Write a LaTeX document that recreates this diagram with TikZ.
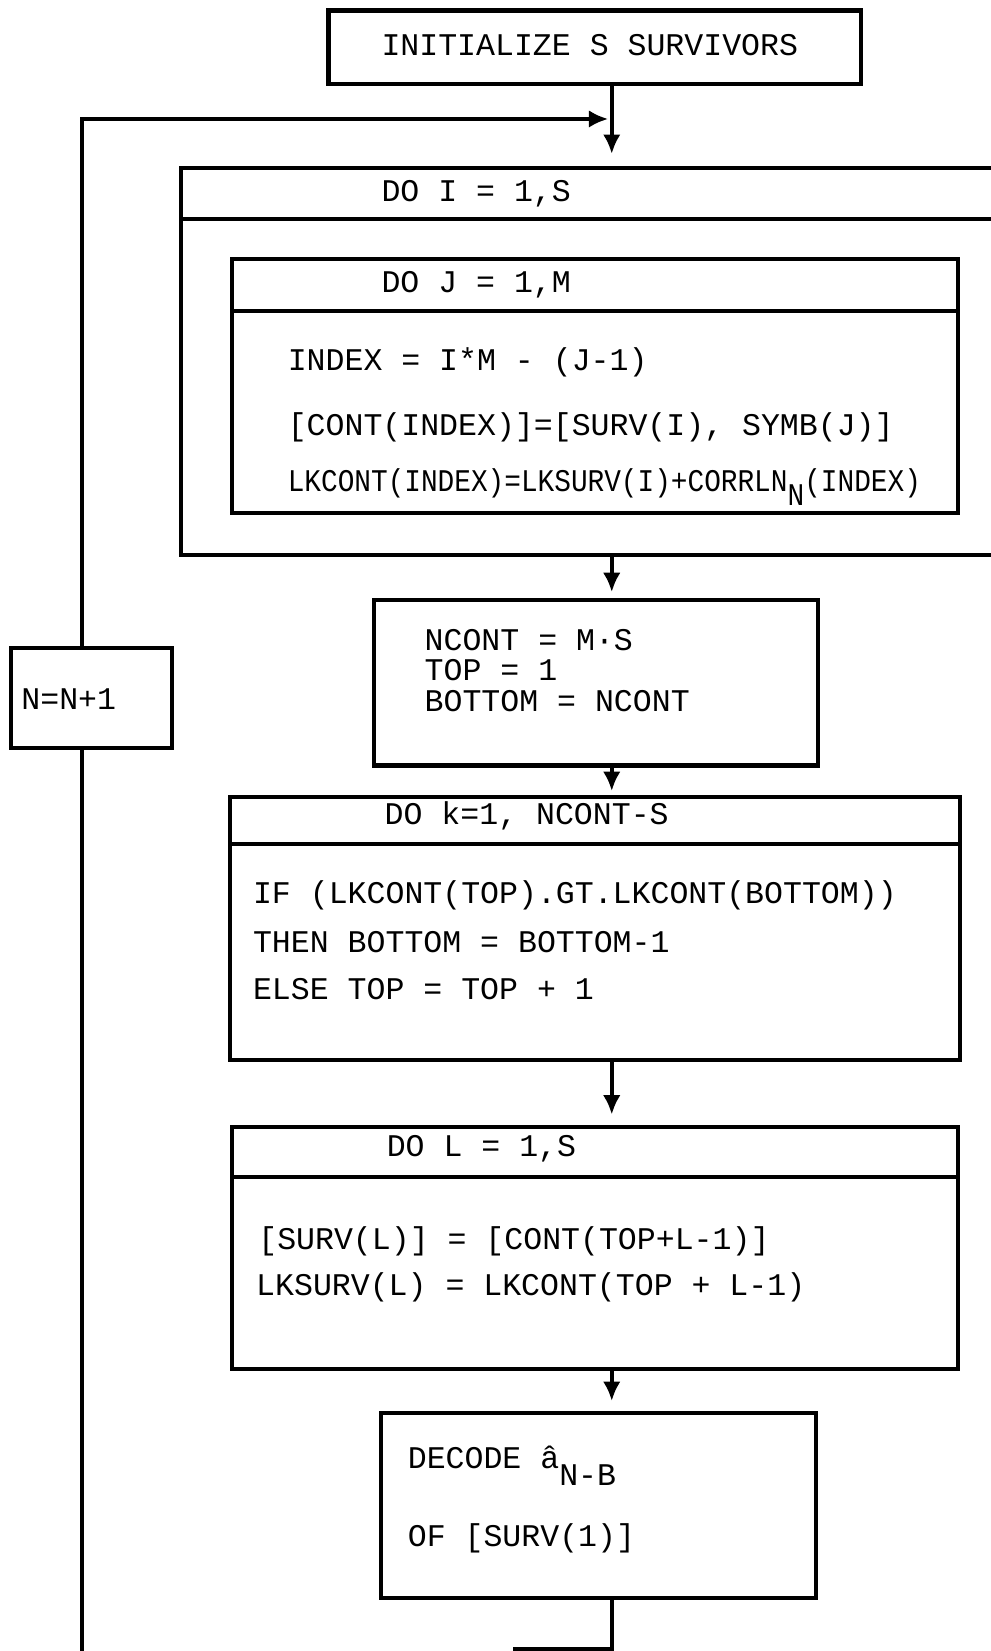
\documentclass[tikz,border=0pt]{standalone}
\usepackage{fontspec}
\setmonofont{Liberation Mono}
\usetikzlibrary{arrows.meta,positioning,fit}

\begin{document}
\begin{tikzpicture}[
    x=0.021cm, y=-0.021cm,
    box/.style={rectangle, draw=black, line width=2.3pt, inner sep=0pt},
    code/.style={anchor=base west, inner sep=0pt,
                 font=\ttfamily\fontsize{17.9}{21}\selectfont},
    arr/.style={-{Latex[length=11pt,width=10pt]}, line width=2.3pt},
    wire/.style={line width=2.3pt}
]
\useasboundingbox (0,0) rectangle (941,1568);
\clip (0,0) rectangle (941,1568);

% --- start ---
\node[box, fit={(312,10) (818,80)}] (init) {};
\node[code] (initT) at (362,52.5) {INITIALIZE S SURVIVORS};

\coordinate (spine) at (581,0);
\coordinate (ltop) at (78,113);
\coordinate (merge) at (581,113);

% --- outer loop over survivors ---
\node[box, fit={(172,160) (975,527)}] (outer) {};
\draw[wire] (172,208) -- (975,208);
\node[code] (outerT) at (362,191.5) {DO I = 1,S};

% --- inner loop over symbols ---
\node[box, fit={(220,246) (910,487)}] (inner) {};
\draw[wire] (220,295) -- (910,295);
\node[code] (innerT) at (362,277.5) {DO J = 1,M};
\node[code] (jl1) at (273,351.5) {INDEX = I*M - (J-1)};
\node[code] (jl2) at (273,413.5) {[CONT(INDEX)]=[SURV(I), SYMB(J)]};
\node[code] (jl3) at (273,466.5)
  {\scalebox{0.88}[1]{LKCONT(INDEX)=LKSURV(I)+CORRLN\raisebox{-8pt}{N}(INDEX)}};

% --- counters ---
\node[box, fit={(355,570) (777,727)}] (ncont) {};
\node[code] (nl1) at (403,617.5) {NCONT = M·S};
\node[code] (nl2) at (403,646.5) {TOP = 1};
\node[code] (nl3) at (403,675.5) {BOTTOM = NCONT};

% --- sorting loop ---
\node[box, fit={(218,757) (912,1007)}] (sortk) {};
\draw[wire] (218,802) -- (912,802);
\node[code] (sortT) at (365,783.5) {DO k=1, NCONT-S};
\node[code] (kl1) at (240,858.5) {IF (LKCONT(TOP).GT.LKCONT(BOTTOM))};
\node[code] (kl2) at (240,904.5) {THEN BOTTOM = BOTTOM-1};
\node[code] (kl3) at (240,949.5) {ELSE TOP = TOP + 1};

% --- new survivors ---
\node[box, fit={(220,1070) (910,1300)}] (newsurv) {};
\draw[wire] (220,1118) -- (910,1118);
\node[code] (newT) at (367,1098.5) {DO L = 1,S};
\node[code] (ll1) at (245,1186.5) {[SURV(L)] = [CONT(TOP+L-1)]};
\node[code] (ll2) at (243,1230.5) {LKSURV(L) = LKCONT(TOP + L-1)};

% --- decision ---
\node[box, fit={(362,1342) (775,1518)}] (decode) {};
\node[code] (dl1) at (387,1394.5) {DECODE â\raisebox{-10pt}{N-B}};
\node[code] (dl2) at (387,1468.5) {OF [SURV(1)]};

% --- step counter ---
\node[box, fit={(10,615) (163,710)}] (step) {};
\node[code] (stepT) at (20,673.5) {N=N+1};

\coordinate (botR) at (581,1566);
\coordinate (botL) at (487,1566);
\coordinate (lbot) at (78,1575);

% arrows
\draw[arr, shorten >=0.25cm] (init.south -| spine) -- (outer.north -| spine);
\draw[arr, shorten >=0.12cm] (outer.south -| spine) -- (ncont.north -| spine);
\draw[arr, shorten >=0.08cm] (ncont.south -| spine) -- (sortk.north -| spine);
\draw[arr, shorten >=0.2cm] (sortk.south -| spine) -- (newsurv.north -| spine);
\draw[arr, shorten >=0.2cm] (newsurv.south -| spine) -- (decode.north -| spine);
\draw[wire] (decode.south -| spine) -- (botR) -- (botL);
\draw[wire] (lbot) -- (step.south -| ltop);
\draw[arr, shorten >=2pt] (step.north -| ltop) -- (ltop) -- (merge);

\end{tikzpicture}
\end{document}
